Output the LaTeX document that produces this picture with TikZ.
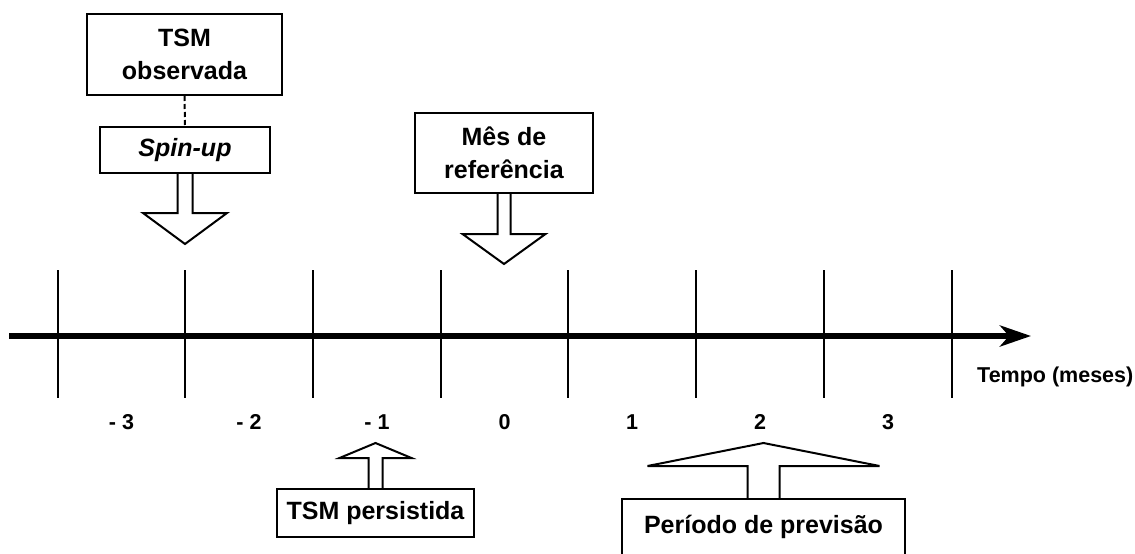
\documentclass[tikz,border=0pt]{standalone}
\usepackage{fontspec}
\setmainfont{Liberation Sans}
\usetikzlibrary{arrows.meta,calc}
\begin{document}
\begin{tikzpicture}[x=1pt,y=-1pt,
  box/.style={draw,line width=2pt,inner sep=0pt,align=center,font=\fontsize{25}{33}\selectfont\bfseries},
  blk/.style={draw,line width=2pt,line join=miter},
  tickline/.style={line width=1.3pt},
  num/.style={font=\fontsize{21.5}{25}\selectfont\bfseries,inner sep=0pt}]
\clip (0,0) rectangle (1135,554);
\fill[white] (0,0) rectangle (1135,554);
% ticks
\foreach \x in {58,185,313,441,568,696,824,952}
  \draw[tickline] (\x,270) -- (\x,398);
% axis
\coordinate (a0) at (9,336);
\coordinate (a1) at (1031,336);
\draw[line width=6pt,-{Stealth[length=31pt,width=21pt,inset=9pt]}] (a0) -- (a1);
\node[num,anchor=west] (tempo) at (977,377) {Tempo (meses)};
% numbers
\node[num] (nm3) at (121.5,422) {- 3};
\node[num] (nm2) at (249,422) {- 2};
\node[num] (nm1) at (377,422) {- 1};
\node[num] (n0) at (504.5,422) {0};
\node[num] (n1) at (632,422) {1};
\node[num] (n2) at (760,422) {2};
\node[num] (n3) at (888,422) {3};
% boxes
\node[box,minimum width=195pt,minimum height=81pt] (obs) at (184.5,54.5) {TSM\\observada};
\node[box,minimum width=170pt,minimum height=46pt] (spin) at (185,150) {\itshape Spin-up};
\node[box,minimum width=178pt,minimum height=80pt] (mes) at (504,153) {Mês de\\referência};
\node[box,minimum width=197pt,minimum height=48pt] (pers) at (375.5,513) {TSM persistida};
\node[box,minimum width=283pt,minimum height=56pt] (prev) at (763.5,527) {Período de previsão};
% dashed link
\draw[line width=2pt,dash pattern=on 5pt off 3pt] (obs.south) -- (spin.north);
% block arrows
\draw[blk] ($(spin.south)+(-7.5,0)$) -- ++(0,39) -- ++(-34.5,0) -- ($(spin.south)+(0,70)$) -- ($(spin.south)+(42,39)$) -- ++(-34.5,0) -- ++(0,-39);
\draw[blk] ($(mes.south)+(-6.5,0)$) -- ++(0,40) -- ++(-35,0) -- ($(mes.south)+(0,70)$) -- ($(mes.south)+(41.5,40)$) -- ++(-35,0) -- ++(0,-40);
\draw[blk] ($(pers.north)+(-7,0)$) -- ++(0,-30) -- ++(-29,0) -- ($(pers.north)+(0,-45)$) -- ($(pers.north)+(36,-30)$) -- ++(-29,0) -- ++(0,30);
\draw[blk] ($(prev.north)+(-16,0)$) -- ++(0,-32) -- ++(-100,0) -- ($(prev.north)+(0,-55)$) -- ($(prev.north)+(116,-32)$) -- ++(-100,0) -- ++(0,32);
\end{tikzpicture}
\end{document}
